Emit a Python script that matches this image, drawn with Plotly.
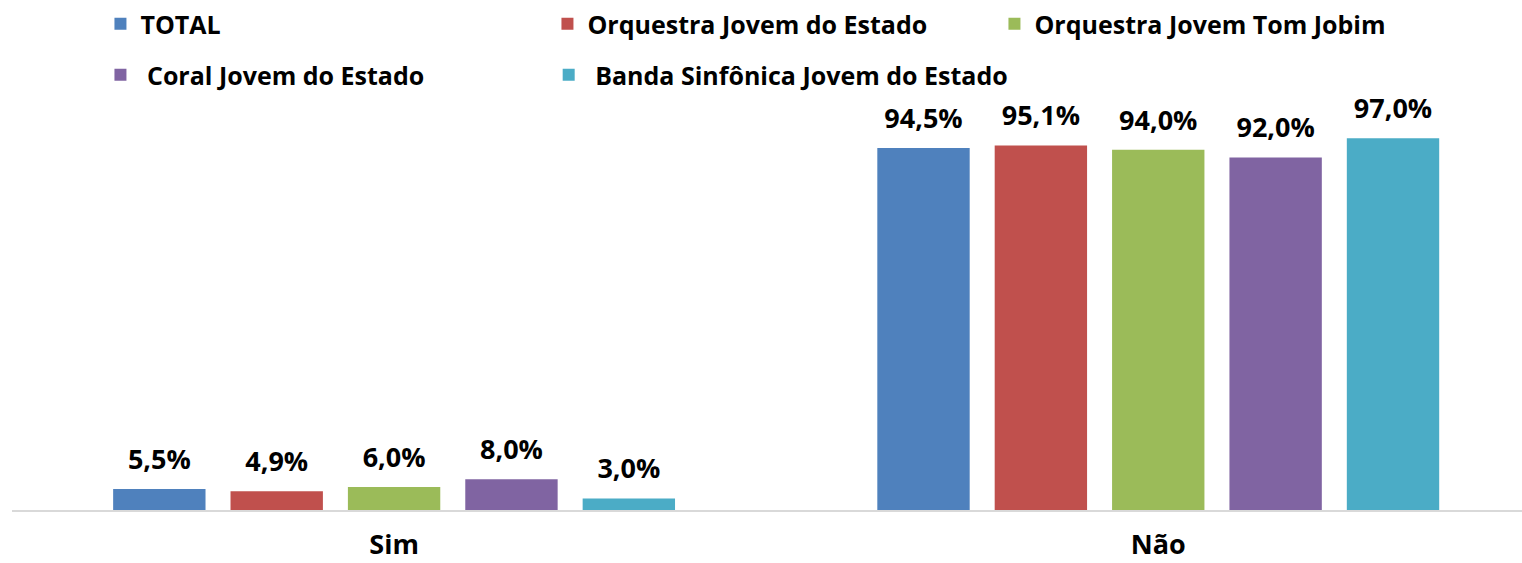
import plotly.graph_objects as go

categories = ["Sim", "Não"]
series_names = [
    "TOTAL",
    "Orquestra Jovem do Estado",
    "Orquestra Jovem Tom Jobim",
    " Coral Jovem do Estado",
    " Banda Sinfônica Jovem do Estado",
]
total = [5.5, 94.5]
orquestra_estado = [4.9, 95.1]
orquestra_tom_jobim = [6.0, 94.0]
coral_estado = [8.0, 92.0]
banda_sinfonica = [3.0, 97.0]

series_values = [total, orquestra_estado, orquestra_tom_jobim, coral_estado, banda_sinfonica]
colors = ["#4F81BD", "#C0504D", "#9BBB59", "#8064A2", "#4BACC6"]
legend_ids = ["legend", "legend", "legend", "legend2", "legend3"]

FONT = "Open Sans"
BARGAP = 0.232

fig = go.Figure()
for i, (name, vals, color, lg) in enumerate(zip(series_names, series_values, colors, legend_ids)):
    fig.add_trace(go.Bar(
        x=categories,
        y=vals,
        name=name,
        offsetgroup=str(i),
        marker=dict(color=color, line=dict(width=0)),
        legend=lg,
    ))
    # value labels, grouped the same way as the bars, lifted by an invisible marker
    fig.add_trace(go.Scatter(
        x=categories,
        y=vals,
        mode="markers+text",
        orientation="v",
        offsetgroup=str(i),
        marker=dict(size=20, opacity=0),
        texttemplate="%{y:.1f}%",
        textposition="top center",
        textfont=dict(family=FONT, size=27, color="#000000", weight="bold"),
        cliponaxis=False,
        showlegend=False,
        hoverinfo="skip",
    ))

legend_common = dict(
    orientation="h",
    xref="container",
    yref="container",
    xanchor="left",
    yanchor="middle",
    font=dict(family=FONT, size=25, color="#000000", weight="bold"),
    itemwidth=30,
    bgcolor="rgba(0,0,0,0)",
    traceorder="normal",
)

fig.update_layout(
    width=1522,
    height=563,
    margin=dict(l=12, r=0, t=100, b=53, autoexpand=False),
    paper_bgcolor="#FFFFFF",
    plot_bgcolor="#FFFFFF",
    separators=",.",
    barmode="group",
    bargap=BARGAP,
    bargroupgap=0.213,
    scattermode="group",
    scattergap=BARGAP,
    font=dict(family=FONT, color="#000000"),
    legend=dict(legend_common, x=0.066, y=1 - 24 / 563,
                entrywidth=402, entrywidthmode="pixels"),
    legend2=dict(legend_common, x=0.066, y=1 - 75 / 563),
    legend3=dict(legend_common, x=0.3605, y=1 - 75 / 563),
    xaxis=dict(
        type="category",
        range=[-0.5, 1.476],
        showline=True,
        linecolor="#D9D9D9",
        linewidth=2,
        ticks="",
        showgrid=False,
        tickfont=dict(family=FONT, size=27, color="#000000", weight="bold"),
        ticklabelstandoff=10,
    ),
    yaxis=dict(
        range=[0, 107],
        visible=False,
        showgrid=False,
        zeroline=False,
    ),
)

fig.write_html("out.html")
